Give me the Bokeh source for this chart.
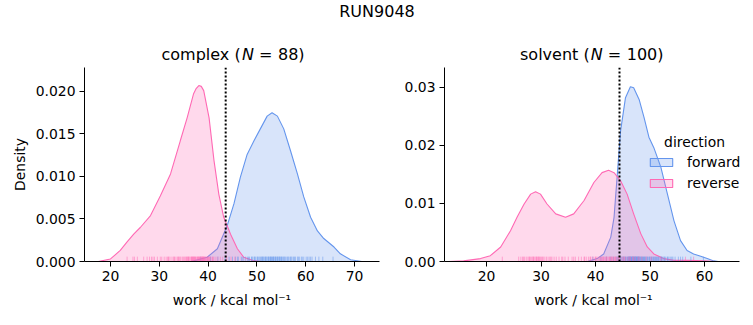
from bokeh.plotting import figure
from bokeh.layouts import column, row
from bokeh.models import (Range1d, FixedTicker, NumeralTickFormatter, Span, Label,
                          Legend, LegendItem)
from bokeh.embed import file_html
from bokeh.resources import INLINE

# ---------------- data ----------------
suptitle = "RUN9048"
phases = ["complex", "solvent"]
n_counts = [88, 100]
x_label = "work / kcal mol\u207b\u00b9"

# complex phase KDE curves
cx_fwd_x = [36.5, 39.8, 41.9, 43.9, 45.3, 46.6, 48.0, 49.4, 50.7, 52.1, 53.1, 54.2, 55.5,
            56.9, 58.3, 59.6, 61.0, 62.4, 63.7, 65.8, 67.1, 69.2, 71.5]
cx_fwd_y = [0.0, 0.0005, 0.0015, 0.0042, 0.0068, 0.0099, 0.0126, 0.0142, 0.0156, 0.0171,
            0.0175, 0.0171, 0.0156, 0.0130, 0.0103, 0.0076, 0.0052, 0.0036, 0.0027,
            0.0017, 0.0009, 0.0002, 0.0]
cx_rev_x = [17.5, 20.0, 22.0, 23.4, 24.8, 26.1, 28.2, 30.2, 32.3, 34.3, 35.7, 37.0, 37.5,
            38.1, 38.6, 39.1, 40.2, 41.2, 42.2, 43.2, 44.6, 46.0, 47.3, 49.4, 51.0]
cx_rev_y = [0.0, 0.0003, 0.0013, 0.0023, 0.00325, 0.0040, 0.0054, 0.0077, 0.0103, 0.0142,
            0.0169, 0.0197, 0.0203, 0.0207, 0.0206, 0.0201, 0.0169, 0.0119, 0.0079,
            0.0052, 0.0032, 0.0015, 0.0005, 0.0001, 0.0]

# solvent phase KDE curves
sv_fwd_x = [38.5, 40.3, 41.5, 42.8, 43.4, 44.0, 44.6, 45.5, 46.4, 47.0, 48.0, 48.9, 49.8,
            50.7, 52.0, 53.2, 54.4, 55.6, 56.8, 58.0, 59.3, 60.5, 61.7, 62.5]
sv_fwd_y = [0.0, 0.0005, 0.0013, 0.0042, 0.0076, 0.0150, 0.0225, 0.0282, 0.0301, 0.0299,
            0.0279, 0.0248, 0.0214, 0.0196, 0.0162, 0.0116, 0.0070, 0.0036, 0.0019,
            0.0013, 0.0009, 0.0005, 0.0001, 0.0]
sv_rev_x = [13.0, 15.8, 18.9, 20.7, 22.6, 24.4, 25.6, 26.9, 28.1, 29.0, 29.9, 31.1, 32.7,
            34.5, 36.0, 37.9, 39.7, 41.2, 42.4, 43.4, 44.6, 45.8, 47.0, 48.3, 49.5, 50.7,
            52.5, 54.4, 57.0, 60.0, 62.0]
sv_rev_y = [0.0, 0.0001, 0.0005, 0.0010, 0.0025, 0.0053, 0.0076, 0.0099, 0.0116, 0.0120,
            0.0116, 0.0099, 0.0082, 0.0076, 0.0082, 0.0105, 0.0136, 0.0153, 0.0157,
            0.0153, 0.0139, 0.0116, 0.0082, 0.0048, 0.0025, 0.0013, 0.0005, 0.0002,
            0.0002, 0.0001, 0.0]

# rug values (individual work samples)
cx_fwd_rug = [38.5, 40.5, 42.0, 43.5, 44.3, 45.0, 45.6, 46.2, 46.8, 47.3, 47.7, 48.1, 48.5,
              48.9, 49.2, 49.5, 49.8, 50.1, 50.4, 50.6, 50.9, 51.1, 51.3, 51.5, 51.7, 51.9,
              52.1, 52.3, 52.5, 52.7, 52.8, 53.0, 53.2, 53.3, 53.5, 53.7, 53.9, 54.1, 54.3,
              54.5, 54.7, 54.9, 55.1, 55.3, 55.5, 55.8, 56.0, 56.3, 56.6, 56.9, 57.2, 57.5,
              57.9, 58.3, 58.7, 59.1, 59.6, 60.1, 60.7, 61.3, 62.0, 62.7, 63.5, 65.6, 46.0,
              47.0, 48.3, 49.0, 49.6, 50.2, 50.8, 51.2, 51.8, 52.4, 52.9, 53.4, 53.8, 54.2,
              54.6, 55.0, 55.6, 56.4, 57.0, 57.7, 58.5, 59.3, 60.4, 61.0]
cx_rev_rug = [23.4, 24.6, 24.9, 25.5, 28.0, 28.4, 28.7, 29.0, 29.6, 31.4, 31.7, 32.0, 32.4,
              32.8, 33.1, 33.4, 33.7, 34.0, 34.4, 34.7, 35.1, 35.3, 35.6, 35.9, 36.1, 36.3,
              36.5, 36.7, 36.9, 37.1, 37.2, 37.4, 37.5, 37.7, 37.8, 38.0, 38.1, 38.2, 38.4,
              38.5, 38.6, 38.8, 38.9, 39.0, 39.2, 39.3, 39.5, 39.7, 39.9, 40.1, 40.3, 40.6,
              40.9, 41.2, 41.6, 42.0, 42.5, 43.0, 43.8, 44.7, 45.5, 30.5, 31.0, 33.9, 34.9,
              35.5, 36.0, 36.6, 37.0, 37.3, 37.9, 38.3, 38.7, 39.1, 39.4, 40.0, 40.4, 26.8,
              27.5, 30.2, 31.9, 33.0, 34.2, 35.8, 36.8, 38.95, 39.8, 41.0]
sv_fwd_rug = [39.5, 41.0, 42.0, 42.8, 43.3, 43.8, 44.2, 44.5, 44.8, 45.0, 45.2, 45.4, 45.6,
              45.8, 46.0, 46.1, 46.2, 46.3, 46.4, 46.5, 46.6, 46.7, 46.8, 46.9, 47.0, 47.1,
              47.2, 47.3, 47.4, 47.5, 47.6, 47.7, 47.8, 47.9, 48.0, 48.2, 48.4, 48.6, 48.8,
              49.0, 49.2, 49.4, 49.6, 49.8, 50.0, 50.2, 50.4, 50.6, 50.8, 51.0, 51.2, 51.4,
              51.6, 51.8, 52.0, 52.2, 52.4, 52.6, 52.9, 53.2, 53.5, 53.8, 54.2, 54.6, 55.2,
              56.0, 57.5, 59.8, 44.0, 44.6, 45.1, 45.5, 45.9, 46.15, 46.35, 46.55, 46.75,
              46.95, 47.15, 47.35, 47.55, 47.75, 47.95, 48.1, 48.3, 48.5, 48.7, 48.9, 49.1,
              49.5, 49.9, 50.3, 50.7, 51.1, 51.5, 52.1, 52.7, 53.3, 54.0, 55.6]
sv_rev_rug = [22.9, 25.9, 26.3, 26.6, 27.0, 27.3, 27.6, 27.9, 28.1, 28.3, 28.5, 28.7, 28.9,
              29.1, 29.3, 29.5, 29.7, 29.9, 30.1, 30.4, 30.7, 31.0, 31.3, 31.6, 32.0, 32.4,
              32.8, 33.3, 33.8, 34.4, 35.0, 35.7, 36.3, 36.9, 37.4, 37.9, 38.3, 38.7, 39.1,
              39.4, 39.7, 40.0, 40.3, 40.6, 40.9, 41.1, 41.3, 41.5, 41.7, 41.9, 42.1, 42.3,
              42.5, 42.7, 42.9, 43.1, 43.3, 43.5, 43.7, 43.9, 44.1, 44.4, 44.7, 45.0, 45.3,
              45.6, 46.0, 46.4, 46.8, 47.3, 47.8, 48.5, 49.3, 56.5, 58.0, 26.8, 27.8, 28.6,
              29.2, 29.6, 30.3, 31.8, 34.0, 36.0, 38.0, 39.0, 40.1, 40.8, 41.4, 42.0, 42.6,
              43.0, 43.6, 44.2, 45.2, 46.2, 47.0, 48.0, 50.2, 52.0]

# dotted reference lines (free-energy estimates)
cx_vline = 43.6
sv_vline = 44.4

# axes
cx_xlim = (14.67, 75.12)
cx_ylim = (0, 0.02282)
sv_xlim = (12.29, 66.42)
sv_ylim = (0, 0.0334)
cx_xticks = [20, 30, 40, 50, 60, 70]
cx_yticks = [0.0, 0.005, 0.010, 0.015, 0.020]
sv_xticks = [20, 30, 40, 50, 60]
sv_yticks = [0.0, 0.01, 0.02, 0.03]

# ---------------- styling ----------------
FONT = "DejaVu Sans"
BLUE = "#6495ED"
PINK = "#FF69B4"
TICK_FS = "13.9px"
TITLE_FS = "16px"
TOP_H = 64
FRAME_W = 295


def style_axes(p, xticks, yticks, yfmt, ylabel, xbounds):
    p.xgrid.visible = False
    p.ygrid.visible = False
    p.outline_line_color = None
    for ax in (p.xaxis[0], p.yaxis[0]):
        ax.axis_line_color = "black"
        ax.axis_line_width = 1
        ax.major_tick_line_color = "black"
        ax.major_tick_line_width = 1
        ax.major_tick_out = 5
        ax.major_tick_in = 0
        ax.minor_tick_line_color = None
        ax.major_label_text_font = FONT
        ax.major_label_text_font_size = TICK_FS
        ax.major_label_text_color = "black"
        ax.major_label_standoff = 4
        ax.axis_label_text_font = FONT
        ax.axis_label_text_font_size = TICK_FS
        ax.axis_label_text_font_style = "normal"
        ax.axis_label_text_color = "black"
    p.xaxis[0].ticker = FixedTicker(ticks=xticks)
    p.xaxis[0].bounds = xbounds
    p.yaxis[0].ticker = FixedTicker(ticks=yticks)
    p.yaxis[0].formatter = NumeralTickFormatter(format=yfmt)
    p.xaxis[0].axis_label = x_label
    p.xaxis[0].axis_label_standoff = 8
    if ylabel:
        p.yaxis[0].axis_label = ylabel
        p.yaxis[0].axis_label_standoff = 5


def panel(width, xlim, ylim, bl, br, extra_px, fwd, rev, rugs, vline,
          xticks, yticks, yfmt, ylabel):
    # the frame may extend a few pixels beyond the axis (room for the legend text)
    scale = (xlim[1] - xlim[0]) / FRAME_W
    xr = Range1d(xlim[0], xlim[1] + extra_px * scale)
    p = figure(width=width, height=325 - TOP_H, x_range=xr, y_range=Range1d(*ylim),
               toolbar_location=None, output_backend="svg",
               min_border_left=bl, min_border_right=br, min_border_top=3,
               min_border_bottom=64, background_fill_color="white",
               border_fill_color="white")
    style_axes(p, xticks, yticks, yfmt, ylabel, xlim)
    rf = p.patch(fwd[0], fwd[1], fill_color=BLUE, fill_alpha=0.25,
                 line_color=BLUE, line_width=1.1)
    rr = p.patch(rev[0], rev[1], fill_color=PINK, fill_alpha=0.25,
                 line_color=PINK, line_width=1.1)
    h = 0.025 * ylim[1]
    p.segment(x0=rugs[0], y0=0, x1=rugs[0], y1=h, line_color=BLUE, line_alpha=0.5, line_width=1)
    p.segment(x0=rugs[1], y0=0, x1=rugs[1], y1=h, line_color=PINK, line_alpha=0.5, line_width=1)
    p.add_layout(Span(location=vline, dimension="height", line_color="black",
                      line_width=2, line_dash="2 2"))
    return p, rf, rr


p1, _, _ = panel(400, cx_xlim, cx_ylim, 84, 21, 0,
                 (cx_fwd_x, cx_fwd_y), (cx_rev_x, cx_rev_y), (cx_fwd_rug, cx_rev_rug),
                 cx_vline, cx_xticks, cx_yticks, "0.000", "Density")
p2, f2, r2 = panel(353, sv_xlim, sv_ylim, 44, 11, 3,
                   (sv_fwd_x, sv_fwd_y), (sv_rev_x, sv_rev_y), (sv_fwd_rug, sv_rev_rug),
                   sv_vline, sv_xticks, sv_yticks, "0.00", None)

legend = Legend(items=[LegendItem(label="forward", renderers=[f2]),
                       LegendItem(label="reverse", renderers=[r2])],
                location=(203, 70), padding=0, margin=0, spacing=5,
                glyph_width=28, glyph_height=10, label_height=10, label_standoff=12,
                border_line_color=None, background_fill_alpha=0,
                label_text_font=FONT, label_text_font_size=TICK_FS,
                label_text_color="black")
p2.add_layout(legend)
p2.add_layout(Label(x=250, y=120, x_units="screen", y_units="screen", text="direction",
                    text_align="center", text_baseline="middle", text_font=FONT,
                    text_font_size=TICK_FS, text_color="black"))

# ---------------- title strip ----------------
top = figure(width=753, height=TOP_H, x_range=Range1d(0, 753), y_range=Range1d(0, TOP_H),
             toolbar_location=None, output_backend="svg", min_border=0,
             x_axis_location=None, y_axis_location=None, outline_line_color=None)
top.xgrid.visible = False
top.ygrid.visible = False


def t(x, ypix, text, italic=False, align="left"):
    top.add_layout(Label(x=x, y=TOP_H - ypix, text=text, text_font=FONT,
                         text_font_size=TITLE_FS, text_color="black",
                         text_font_style="italic" if italic else "normal",
                         text_align=align, text_baseline="alphabetic"))


t(376.5, 11, suptitle, align="center")
# complex (N = 88)
t(161.0, 54, phases[0] + " (")
t(241.5, 54, "N", italic=True)
t(258.5, 54, "=")
t(277.5, 54, f"{n_counts[0]})")
# solvent (N = 100)
t(519.5, 54, phases[1] + " (")
t(590.2, 54, "N", italic=True)
t(607.2, 54, "=")
t(626.2, 54, f"{n_counts[1]})")

layout = column(top, row(p1, p2, spacing=0), spacing=0)
open("out.html", "w").write(file_html(layout, INLINE))
